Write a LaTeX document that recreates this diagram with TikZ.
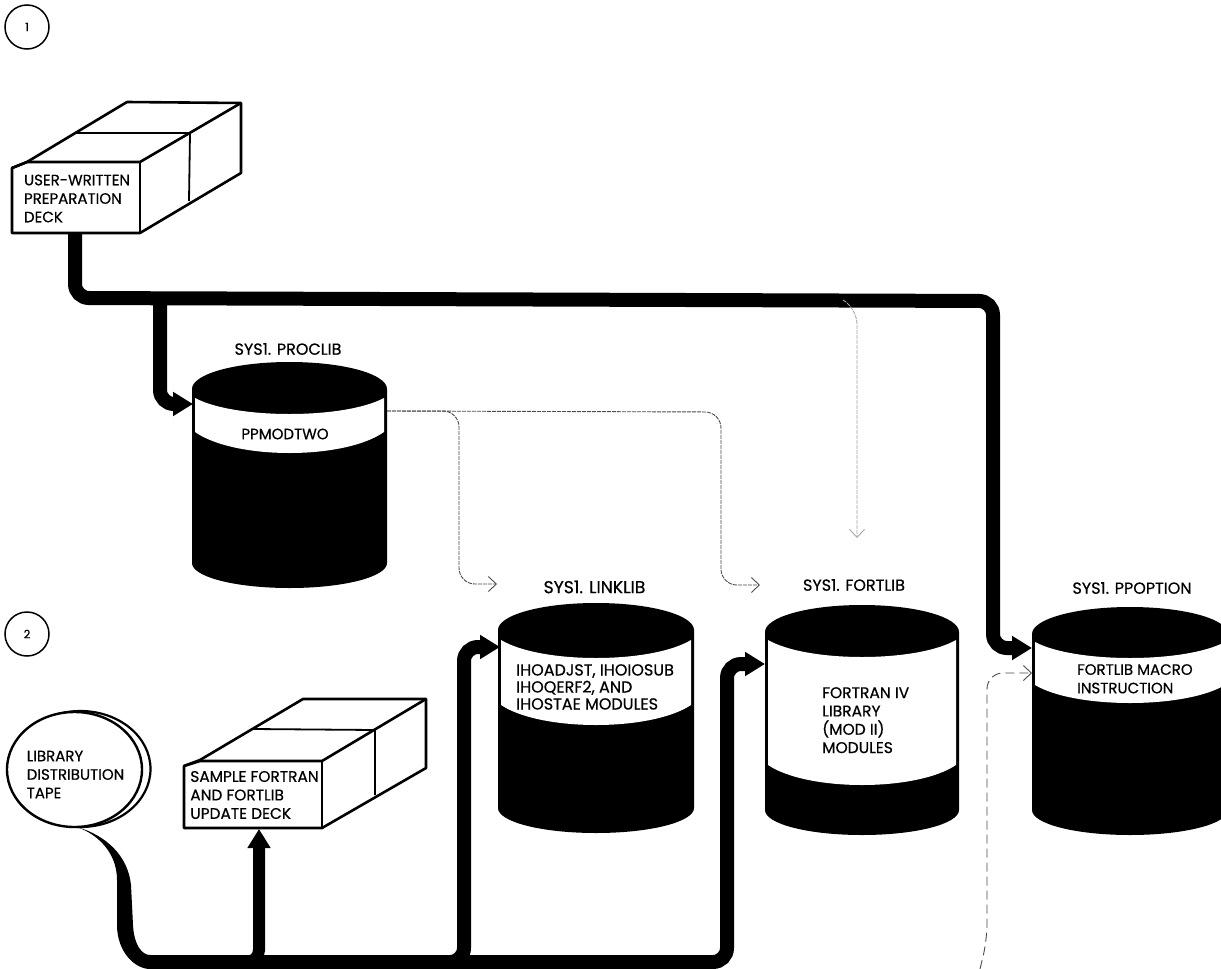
\documentclass[tikz,border=0pt]{standalone}
\usepackage{fontspec}
\setmainfont{Poppins}[FakeBold=0.5]
\usetikzlibrary{arrows.meta,shapes.geometric}
\newcommand{\cylshape}[9]{%
  % #1 L, #2 R, #3 top, #4 rim side, #5 band top edge, #6 band top centre, #7 band bottom edge, #8 band bottom centre, #9 base side; bottom in \cylbot
  \pgfmathsetmacro{\cx}{(#1+#2)/2}%
  \pgfmathsetmacro{\cw}{#2-#1}%
  \pgfmathsetmacro{\ql}{#1+0.22*\cw}%
  \pgfmathsetmacro{\qr}{#2-0.22*\cw}%
  \pgfmathsetmacro{\il}{#1+3}%
  \pgfmathsetmacro{\ir}{#2-3}%
  \pgfmathsetmacro{\tm}{#4-0.55*(#4-#3)}%
  \pgfmathsetmacro{\bm}{#9+0.55*(\cylbot-#9)}%
  \pgfmathsetmacro{\ca}{#5+4/3*(#6-#5)}%
  \pgfmathsetmacro{\cb}{#7+4/3*(#8-#7)}%
  \fill[black] (#1,#4) .. controls (#1,\tm) and (\ql,#3) .. (\cx,#3)
     .. controls (\qr,#3) and (#2,\tm) .. (#2,#4) -- (#2,#9)
     .. controls (#2,\bm) and (\qr,\cylbot) .. (\cx,\cylbot)
     .. controls (\ql,\cylbot) and (#1,\bm) .. (#1,#9) -- cycle;
  \fill[white] (\il,#5) .. controls (\ql,\ca) and (\qr,\ca) .. (\ir,#5) -- (\ir,#7)
     .. controls (\qr,\cb) and (\ql,\cb) .. (\il,#7) -- cycle;
}
\tikzset{
  heavy/.style={line width=14pt,black,rounded corners=14pt,line cap=butt},
  heavyarrow/.style={heavy,-{Triangle[length=20pt,width=23pt]}},
  faint/.style={line width=0.9pt,black!70,rounded corners=16pt,dash pattern=on 4pt off 1pt,-{Straight Barb[length=8pt,width=15pt]}},
  paler/.style={faint,black!35},
  label/.style={font=\fontsize{15}{18.5}\selectfont,text=black,inner sep=0pt,align=left},
  title/.style={label,font=\fontsize{16}{18.5}\selectfont},
  edge/.style={line width=2.6pt,black,line join=round,fill=white},
  slim/.style={line width=1.8pt,black},
  badge/.style={circle,draw=black,line width=1.5pt,minimum size=44pt,inner sep=0pt,font=\fontsize{11.5}{12}\selectfont},
  zone/.style={inner sep=0pt,minimum width=#1},
}
\begin{document}
\begin{tikzpicture}[x=1pt,y=-1pt]
\clip (0,0) rectangle (1221,969);
\fill[white] (0,0) rectangle (1221,969);

% step badges
\node[badge] (one) at (27,27) {1};
\node[badge] (two) at (27,634) {2};

% anchors of the connectors
\coordinate (procin) at (193,404);
\coordinate (linkin) at (500,647);
\coordinate (fortin) at (765,664);
\coordinate (optin) at (1032,648);
\coordinate (optinb) at (1032,673);
\coordinate (procout) at (387,411);
\coordinate (linkdash) at (497,584);
\coordinate (fortdash) at (760,585);
\coordinate (fortdrop) at (857,538);
\coordinate (tapeleave) at (77,827);
\coordinate (bottomjoin) at (150,962);
\coordinate (offpage) at (980,969);
\coordinate (mainbus) at (843,300);
\coordinate (updeck) at (259,829);

% heavy connectors
\draw[heavyarrow] (75,233) -- (75,298) -- (993,301) -- (993,648) -- (optin);
\draw[heavyarrow] (160,299) -- (160,404) -- (procin);
\fill[black] (tapeleave) .. controls (97,834) and (117,852) .. (117,880) -- (117,925)
   .. controls (117,952) and (135,969) .. (bottomjoin |- 0,969) -- (bottomjoin |- 0,955)
   .. controls (142,955) and (134,945) .. (133,925) -- (131,885)
   .. controls (128,855) and (105,835) .. (tapeleave) -- cycle;
\draw[heavyarrow] (bottomjoin) -- (727,962) -- (727,664) -- (fortin);
\draw[heavyarrow] (420,962) -- (464,962) -- (464,647) -- (linkin);
\draw[heavy,line width=12pt,rounded corners=12pt,-{Triangle[length=19pt,width=22pt]}] (225,962) -- (259,962) -- (updeck);

% cylinders
\def\cylbot{588}\cylshape{192}{387}{362}{389}{398}{414}{432}{453}{563}
\def\cylbot{833}\cylshape{498}{694}{603}{630}{640}{658}{705}{725}{808}
\def\cylbot{835}\cylshape{765}{959}{605}{632}{640}{657}{765}{785}{810}
\def\cylbot{835}\cylshape{1032}{1228}{607}{634}{642}{658}{685}{703}{810}

\node[zone=195pt,minimum height=226pt] (proclibdisk) at (289.5,475) {};
\node[zone=196pt,minimum height=230pt] (linklibdisk) at (596,718) {};
\node[zone=194pt,minimum height=230pt] (fortlibdisk) at (862,720) {};
\node[zone=196pt,minimum height=228pt] (ppoptiondisk) at (1130,721) {};

% thin connectors
\draw[faint] (procout) -- (459,411) -- (459,584) -- (linkdash);
\draw[faint] (procout) -- (721,412) -- (721,585) -- (fortdash);
\draw[paler] (mainbus) -- (857,308) -- (fortdrop);
\draw[faint,dash pattern=on 9pt off 5pt] (offpage) -- (987,940) -- (987,673) -- (optinb);

% decks
\draw[edge] (12,168) -- (27,162) -- (127,102) -- (241,103) -- (241,173) -- (140,233) -- (12,233) -- cycle;
\draw[edge,fill=none] (12,168) -- (27,162) -- (140,162) -- (241,103);
\draw[edge,fill=none] (140,162) -- (140,233);
\draw[slim] (76,133) -- (190,133) -- (189,201);
\node[label,minimum height=65pt] (deckone) at (77,198.5) {USER-WRITTEN\\PREPARATION\\DECK};

\draw[edge] (184,766) -- (200,760) -- (303,699) -- (426,699) -- (426,768) -- (322,828) -- (184,828) -- cycle;
\draw[edge,fill=none] (184,766) -- (200,761) -- (322,761) -- (426,699);
\draw[edge,fill=none] (322,761) -- (322,828);
\draw[slim] (253,729) -- (375,730) -- (375,795);
\node[label,font=\fontsize{15.4}{18.5}\selectfont,minimum height=65pt] (deckupdate) at (254.5,795) {SAMPLE FORTRAN\\AND FORTLIB\\UPDATE DECK};

% tape
\draw[edge,line width=2.2pt] (80.5,769) ellipse [x radius=70, y radius=58];
\node[ellipse,draw=black,fill=white,line width=2.4pt,minimum width=135pt,minimum height=115pt,inner sep=0pt] (tape) at (74.5,769.5) {};
\node[label] (tapetext) at (75.5,774.5) {LIBRARY\\DISTRIBUTION\\TAPE};

% labels
\node[title] (proclibname) at (288,349) {SYS1. PROCLIB};
\node[title,font=\fontsize{17.2}{18.5}\selectfont] (linklibname) at (594.5,587) {SYS1. LINKLIB};
\node[title] (fortlibname) at (854,585) {SYS1. FORTLIB};
\node[title] (ppoptionname) at (1132,588) {SYS1. PPOPTION};
\node[label] (ppmodtwo) at (285,434) {PPMODTWO};
\node[label,font=\fontsize{16}{17}\selectfont,anchor=north west] (ihomods) at (516,664) {IHOADJST, IHOIOSUB\\IHOQERF2, AND\\IHOSTAE MODULES};
\node[label,font=\fontsize{15.5}{18.3}\selectfont,anchor=north west] (fortmods) at (822,687) {FORTRAN IV\\LIBRARY\\(MOD II)\\MODULES};
\node[label,anchor=north west] (macro) at (1077,664) {FORTLIB MACRO\\INSTRUCTION};
\end{tikzpicture}
\end{document}
